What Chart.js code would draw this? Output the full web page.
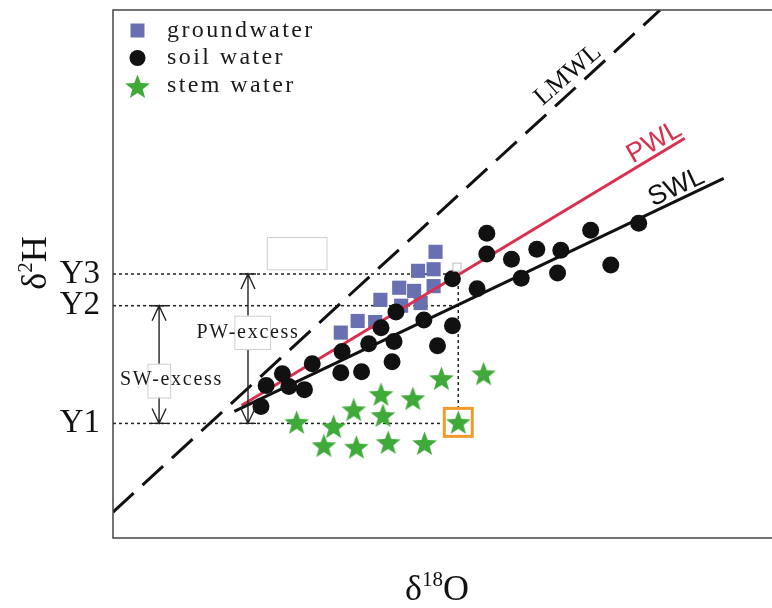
<!DOCTYPE html>
<html>
<head>
<meta charset="utf-8">
<script src="https://cdn.jsdelivr.net/npm/chart.js@4.4.0/dist/chart.umd.min.js"></script>
<style>
	html, body { margin: 0; padding: 0; background: #fff; }
</style>
</head>
<body>
<canvas id="chart" width="772" height="608"></canvas>
<script>
// schematic units: x and y both run 0..100 across the plot
const groundwater = [
	[49.7, 54.2], [47.0, 50.6], [49.4, 50.9], [44.1, 47.4], [46.4, 46.8], [49.4, 47.7],
	[41.2, 45.1], [44.4, 44.0], [47.4, 44.5], [37.7, 41.1], [40.4, 40.9], [35.1, 38.9]
];
const soilWater = [
	[22.8, 24.9], [23.6, 28.9], [26.1, 31.1], [27.1, 28.7], [29.5, 28.1], [30.7, 33.0],
	[35.3, 35.3], [35.1, 31.3], [38.3, 31.5], [39.4, 36.8], [41.3, 39.8], [43.3, 37.2],
	[43.0, 33.4], [43.6, 42.8], [47.9, 41.3], [50.0, 36.4], [52.3, 49.1], [52.3, 40.2],
	[56.1, 47.2], [57.6, 57.7], [57.6, 53.8], [61.4, 52.8], [62.9, 49.2], [65.3, 54.7],
	[69.0, 54.5], [68.5, 50.2], [73.6, 58.3], [76.7, 51.7], [81.0, 59.6]
];
const stemWater = [
	[28.3, 21.9], [34.0, 21.1], [32.5, 17.5], [37.1, 24.3], [37.5, 17.2], [41.3, 27.2],
	[41.6, 23.2], [42.4, 18.1], [46.2, 26.4], [48.0, 17.9], [50.6, 30.2], [53.2, 21.9],
	[57.1, 31.1]
];
const lmwl = [[0, 4.9], [84.3, 100]];
const pwl = [[19.8, 25.1], [88.1, 75.7]];
const swl = [[18.7, 24.0], [94.1, 68.1]];

const levelLabels = ['Y1', 'Y2', 'Y3'];
const levelValues = [21.7, 44.0, 50.0];
const crossX = 53.2;
const y1LineEnd = 51.1;
const pwArrowX = 20.8;
const swArrowX = 7.1;

const serif = '"Liberation Serif", "Times New Roman", serif';
const sans = '"Liberation Sans", Arial, sans-serif';
const blue = '#6970b2';
const green = '#3faa3a';
const red = '#d9304f';
const orange = '#f29a2c';

const pts = arr => arr.map(p => ({ x: p[0], y: p[1] }));

function makeStar(size, color) {
	const c = document.createElement('canvas');
	c.width = size; c.height = size;
	const g = c.getContext('2d');
	const cx = size / 2, cy = size / 2 + 1, R = size / 2 - 0.5, r = R * 0.42;
	g.beginPath();
	for (let i = 0; i < 10; i++) {
		const a = -Math.PI / 2 + i * Math.PI / 5;
		const rad = i % 2 ? r : R;
		g.lineTo(cx + rad * Math.cos(a), cy + rad * Math.sin(a));
	}
	g.closePath();
	g.fillStyle = color;
	g.fill();
	return c;
}
const star = makeStar(27, green);

const dotted = { borderColor: '#222', borderWidth: 1.5, borderDash: [3, 3], pointRadius: 0, showLine: true, order: 6 };

const decorations = {
	id: 'decorations',
	afterDatasetsDraw(chart) {
		const { ctx } = chart;
		const xs = chart.scales.x, ys = chart.scales.y;
		const px = v => xs.getPixelForValue(v);
		const py = v => ys.getPixelForValue(v);
		ctx.save();

		// double arrows
		ctx.strokeStyle = '#222';
		ctx.lineWidth = 1.4;
		const arrow = (x, yTop, yBot) => {
			const X = px(x), T = py(yTop), B = py(yBot);
			ctx.beginPath();
			ctx.moveTo(X, T); ctx.lineTo(X, B);
			ctx.moveTo(X - 7, T + 15); ctx.lineTo(X, T); ctx.lineTo(X + 7, T + 15);
			ctx.moveTo(X - 7, B - 15); ctx.lineTo(X, B); ctx.lineTo(X + 7, B - 15);
			ctx.moveTo(X - 8, T); ctx.lineTo(X + 8, T);
			ctx.moveTo(X - 8, B); ctx.lineTo(X + 8, B);
			ctx.stroke();
		};
		arrow(pwArrowX, levelValues[2], levelValues[0]);
		arrow(swArrowX, levelValues[1], levelValues[0]);

		// white boxes
		const box = (x0, y0, x1, y1) => {
			const X0 = px(x0), Y0 = py(y0), X1 = px(x1), Y1 = py(y1);
			ctx.fillStyle = '#fff';
			ctx.fillRect(X0, Y0, X1 - X0, Y1 - Y0);
			ctx.strokeStyle = '#cfcfcf';
			ctx.lineWidth = 1;
			ctx.strokeRect(X0 + 0.5, Y0 + 0.5, X1 - X0, Y1 - Y0);
		};
		box(23.7, 57.0, 32.9, 50.9);
		box(18.7, 42.1, 24.2, 35.8);
		box(5.3, 33.0, 8.8, 26.6);
		ctx.strokeStyle = '#bdbdbd';
		ctx.fillStyle = '#fff';
		ctx.fillRect(px(53.0) - 4, py(51.3) - 4, 8, 8);
		ctx.strokeRect(px(53.0) - 4, py(51.3) - 4, 8, 8);

		// excess texts
		ctx.fillStyle = '#1a1a1a';
		ctx.font = '20px ' + serif;
		ctx.textAlign = 'center';
		ctx.textBaseline = 'middle';
		ctx.letterSpacing = '1.7px';
		ctx.fillText('PW-excess', px(20.8), py(38.9));
		ctx.fillText('SW-excess', px(9.0), py(30.0));
		ctx.letterSpacing = '0px';

		// highlighted sample
		ctx.strokeStyle = orange;
		ctx.lineWidth = 3;
		ctx.strokeRect(px(crossX) - 14, py(21.9) - 14, 28, 28);

		// line labels
		const rotText = (text, x, y, deg, font, color) => {
			ctx.save();
			ctx.translate(px(x), py(y));
			ctx.rotate(deg * Math.PI / 180);
			ctx.font = font;
			ctx.fillStyle = color;
			ctx.fillText(text, 0, 0);
			ctx.restore();
		};
		rotText('LMWL', 70.1, 87.7, -41, '26px ' + serif, '#111');
		rotText('PWL', 83.4, 74.9, -30, '27px ' + sans, red);
		rotText('SWL', 86.8, 66.4, -25, '27px ' + sans, '#111');

		ctx.restore();
	},
	afterDraw(chart) {
		const { ctx, chartArea: a } = chart;
		ctx.save();
		// frame: left, top and bottom
		ctx.strokeStyle = '#444';
		ctx.lineWidth = 1.5;
		ctx.beginPath();
		ctx.moveTo(772, a.top); ctx.lineTo(a.left, a.top); ctx.lineTo(a.left, a.bottom); ctx.lineTo(772, a.bottom);
		ctx.stroke();

		// legend
		ctx.fillStyle = blue;
		ctx.fillRect(130.5, 23.5, 14, 14);
		ctx.fillStyle = '#111';
		ctx.beginPath(); ctx.arc(137.5, 58, 8, 0, Math.PI * 2); ctx.fill();
		ctx.drawImage(star, 124, 73);
		ctx.fillStyle = '#1a1a1a';
		ctx.font = '24px ' + serif;
		ctx.textAlign = 'left';
		ctx.textBaseline = 'alphabetic';
		ctx.letterSpacing = '2.4px';
		ctx.fillText('groundwater', 167, 37);
		ctx.fillText('soil water', 167, 64);
		ctx.fillText('stem water', 167, 92);
		ctx.letterSpacing = '0px';

		// axis titles with superscripts
		const title = (parts) => {
			let w = 0;
			parts.forEach(p => { ctx.font = p.size + 'px ' + serif; w += ctx.measureText(p.t).width; });
			let x = -w / 2;
			parts.forEach(p => {
				ctx.font = p.size + 'px ' + serif;
				ctx.fillText(p.t, x, -p.rise);
				x += ctx.measureText(p.t).width;
			});
		};
		ctx.fillStyle = '#111';
		ctx.save();
		ctx.translate(437, 600);
		title([{ t: 'δ', size: 36, rise: 0 }, { t: '18', size: 21, rise: 14 }, { t: 'O', size: 36, rise: 0 }]);
		ctx.restore();
		ctx.save();
		ctx.translate(46, 263);
		ctx.rotate(-Math.PI / 2);
		title([{ t: 'δ', size: 36, rise: 0 }, { t: '2', size: 21, rise: 14 }, { t: 'H', size: 36, rise: 0 }]);
		ctx.restore();
		ctx.restore();
	}
};

new Chart(document.getElementById('chart'), {
	type: 'scatter',
	data: {
		datasets: [
			{ label: 'soil water', data: pts(soilWater), pointStyle: 'circle', pointRadius: 8.5, backgroundColor: '#111', borderWidth: 0, order: 0 },
			{ label: 'stem water', data: pts(stemWater), pointStyle: star, order: 1 },
			{ label: 'SWL', data: pts(swl), showLine: true, borderColor: '#111', borderWidth: 3, pointRadius: 0, order: 2 },
			{ label: 'PWL', data: pts(pwl), showLine: true, borderColor: red, borderWidth: 3, pointRadius: 0, order: 3 },
			{ label: 'groundwater', data: pts(groundwater), pointStyle: 'rect', pointRadius: 10, backgroundColor: blue, borderWidth: 0, order: 4 },
			{ label: 'LMWL', data: pts(lmwl), showLine: true, borderColor: '#111', borderWidth: 3, borderDash: [28, 12], pointRadius: 0, order: 5 },
			{ ...dotted, data: pts([[0, levelValues[2]], [crossX, levelValues[2]]]) },
			{ ...dotted, data: pts([[0, levelValues[1]], [crossX, levelValues[1]]]) },
			{ ...dotted, data: pts([[0, levelValues[0]], [y1LineEnd, levelValues[0]]]) },
			{ ...dotted, data: pts([[crossX, levelValues[2]], [crossX, 24.5]]) }
		]
	},
	options: {
		responsive: false,
		animation: false,
		layout: { padding: { top: 8, bottom: 70, right: 1, left: 0 } },
		plugins: { legend: { display: false }, tooltip: { enabled: false } },
		scales: {
			x: { type: 'linear', min: 0, max: 100, display: false },
			y: {
				type: 'linear', min: 0, max: 100,
				afterBuildTicks: s => { s.ticks = levelValues.map(v => ({ value: v })); },
				afterFit: s => { s.width = 113; s.paddingTop = 0; s.paddingBottom = 0; },
				ticks: {
					callback: (v, i) => levelLabels[i],
					font: { family: serif, size: 33 },
					color: '#111',
					padding: 5,
					autoSkip: false
				},
				grid: { display: false },
				border: { display: false }
			}
		}
	},
	plugins: [decorations]
});
</script>
</body>
</html>
